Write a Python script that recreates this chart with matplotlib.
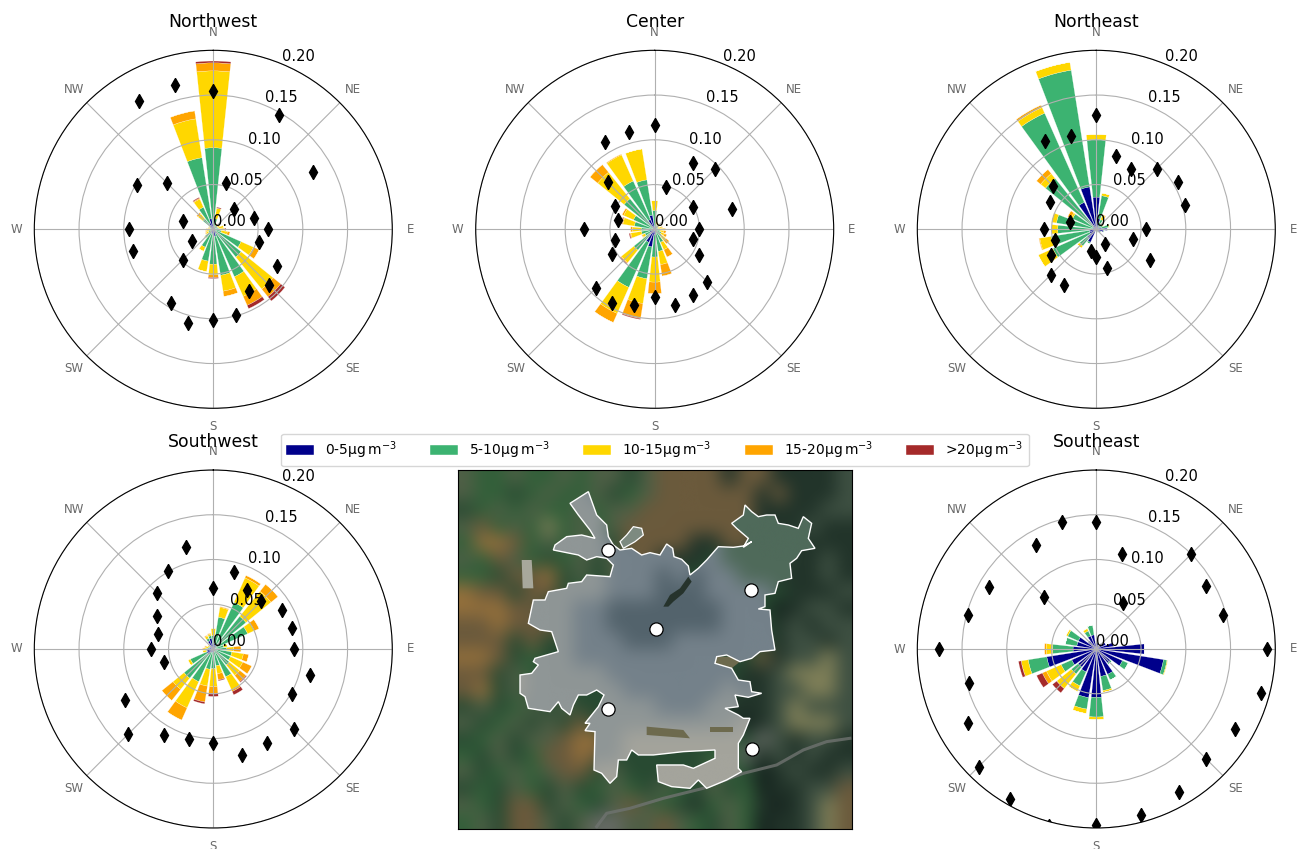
import numpy as np
import matplotlib
matplotlib.use("Agg")
import matplotlib.pyplot as plt
from matplotlib.colors import to_rgb
from matplotlib.patches import Polygon, Patch

W, H = 1298, 849

# wind direction bins, clockwise from north
directions = np.arange(0, 360, 15)
dir_labels = ["N", "NE", "E", "SE", "S", "SW", "W", "NW"]
class_labels = [r"0-5$\mathrm{\mu g\,m^{-3}}$", r"5-10$\mathrm{\mu g\,m^{-3}}$",
                r"10-15$\mathrm{\mu g\,m^{-3}}$", r"15-20$\mathrm{\mu g\,m^{-3}}$",
                r">20$\mathrm{\mu g\,m^{-3}}$"]
class_colors = ["darkblue", "mediumseagreen", "gold", "orange", "brown"]

# upper edge of each class per direction
nw_tops = [[.006, .091, .177, .186, .188], [.003, .012, .024, .024, .025], [.002, .005, .007, .007, .007],
           [.002, .004, .005, .005, .005], [.002, .005, .008, .008, .008], [.002, .006, .012, .012, .012],
           [.002, .007, .012, .013, .014], [.002, .009, .016, .019, .019], [.003, .034, .049, .056, .056],
           [.003, .040, .086, .097, .103], [.005, .058, .082, .093, .097], [.008, .052, .070, .076, .076],
           [.006, .039, .051, .054, .055], [.005, .036, .048, .048, .048], [.004, .022, .027, .027, .027],
           [.003, .012, .013, .013, .013], [.002, .006, .009, .010, .010], [.002, .005, .008, .009, .009],
           [.002, .004, .007, .008, .008], [.002, .004, .005, .006, .006], [.003, .005, .006, .006, .006],
           [.004, .015, .022, .024, .024], [.008, .027, .037, .038, .039], [.012, .081, .125, .134, .134]]
nw_marks = [.154, .054, .147, .032, .129, .047, .061, .053, .082, .088, .080, .099,
            .101, .108, .095, .048, .027, .093, .094, .035, .099, .073, .166, .167]

ce_tops = [[.003, .021, .032, .032, .032], [.003, .006, .009, .009, .009], [.002, .005, .008, .008, .008],
           [.002, .004, .006, .006, .006], [.002, .004, .006, .006, .006], [.002, .004, .008, .009, .009],
           [.002, .006, .011, .012, .012], [.002, .006, .010, .013, .013], [.002, .008, .012, .015, .015],
           [.002, .010, .016, .021, .021], [.003, .016, .025, .034, .034], [.004, .025, .040, .053, .053],
           [.006, .031, .059, .072, .072], [.020, .056, .084, .101, .102], [.016, .071, .103, .114, .114],
           [.006, .030, .048, .049, .050], [.006, .012, .015, .016, .016], [.004, .015, .027, .028, .029],
           [.002, .015, .025, .027, .027], [.002, .023, .036, .037, .038], [.003, .026, .038, .040, .040],
           [.003, .044, .082, .093, .093], [.012, .059, .091, .092, .092], [.016, .056, .091, .091, .091]]
ce_marks = [.116, .049, .086, .095, .050, .089, .049, .044, .057, .083, .085, .088,
            .076, .088, .095, .093, .055, .046, .079, .042, .051, .074, .112, .112]

ne_tops = [[.036, .100, .106, .106, .106], [.012, .038, .041, .041, .041], [.004, .012, .017, .018, .018],
           [.003, .008, .009, .009, .009], [.003, .008, .009, .009, .009], [.006, .014, .015, .015, .015],
           [.012, .013, .013, .013, .013], [.008, .009, .009, .009, .009], [.005, .006, .006, .006, .006],
           [.002, .002, .002, .002, .002], [.003, .004, .004, .004, .004], [.002, .002, .002, .002, .002],
           [.002, .002, .002, .002, .002], [.003, .003, .003, .003, .003], [.016, .018, .018, .018, .018],
           [.013, .024, .027, .027, .027], [.008, .053, .071, .071, .071], [.008, .051, .064, .065, .065],
           [.005, .043, .050, .050, .050], [.004, .045, .051, .051, .051], [.004, .029, .031, .035, .035],
           [.005, .073, .080, .086, .086], [.033, .142, .149, .152, .152], [.048, .180, .189, .189, .189]]
ne_marks = [.128, .085, .078, .096, .105, .103, .055, .043, .069, np.nan, .019, .045,
            .031, .025, .072, .072, .058, .048, .058, .030, .060, .069, .114, .108]

sw_tops = [[.004, .015, .023, .023, .023], [.006, .036, .047, .048, .048], [.004, .057, .087, .090, .090],
           [.004, .047, .083, .093, .093], [.003, .042, .050, .056, .056], [.002, .012, .016, .016, .016],
           [.003, .015, .023, .031, .031], [.003, .021, .034, .040, .040], [.003, .021, .036, .047, .047],
           [.003, .023, .038, .047, .048], [.002, .034, .050, .052, .056], [.002, .019, .028, .035, .036],
           [.003, .022, .042, .050, .053], [.004, .023, .042, .060, .062], [.004, .040, .072, .087, .087],
           [.008, .042, .058, .074, .074], [.008, .028, .031, .031, .031], [.007, .008, .012, .012, .012],
           [.006, .008, .011, .012, .012], [.004, .006, .009, .010, .010], [.004, .005, .007, .007, .007],
           [.003, .005, .006, .006, .006], [.010, .013, .016, .017, .017], [.012, .015, .017, .018, .018]]
sw_marks = [.068, .089, .076, .076, .088, .091, .090, .112, .101, .127, .121, .123,
            .105, .104, .111, .135, .114, .057, .070, .064, .073, .089, .101, .118]

se_tops = [[.006, .007, .007, .007, .007], [.007, .008, .008, .008, .008], [.005, .005, .005, .005, .005],
           [.008, .008, .008, .008, .008], [.012, .012, .012, .012, .012], [.020, .020, .020, .020, .020],
           [.054, .054, .054, .054, .054], [.076, .080, .081, .081, .081], [.032, .039, .039, .039, .039],
           [.020, .022, .022, .022, .022], [.031, .038, .038, .038, .038], [.031, .047, .049, .049, .049],
           [.054, .076, .079, .079, .079], [.055, .068, .073, .073, .073], [.028, .045, .052, .052, .052],
           [.026, .036, .057, .057, .063], [.030, .043, .061, .066, .073], [.056, .077, .085, .085, .088],
           [.026, .049, .056, .058, .058], [.022, .035, .035, .035, .035], [.022, .035, .037, .037, .037],
           [.012, .012, .012, .012, .012], [.016, .022, .025, .025, .025], [.016, .027, .027, .027, .027]]
se_marks = [.142, .110, .059, .150, .141, .146, .191, .190, .179, .174, .185, .192,
            .197, .205, .193, .186, .166, .147, .176, .148, .139, .082, .134, .147]

# map: coarse colours, one letter per cell
map_palette = {"G": "#33603a", "g": "#284a32", "c": "#4f5f46", "b": "#6b5a3c", "B": "#94703c",
               "d": "#22342a", "k": "#16241f", "m": "#3e5042", "t": "#7f7f58", "r": "#666a65"}
map_rows = ["cGGcGGcGccgcbbbbdbbddddm",
            "cGGgGcGGcgGcbbbbbbdbdddm",
            "gGcGcGGcGccbbbbbbbddddmm",
            "cbGcGtGcGcbbbbbbbbdddmdd",
            "GBBbGcGccgbbbbddbbdmdddd",
            "cGbcGgGcgcbbdddgddgmddmd",
            "GGgbbBgcgcbbbgggggmdddmd",
            "BbbgbbgGggbgggggggggdddm",
            "BBBbbgbbgggggggggggkdmmd",
            "bbBbbbbggggggggggggdmdmm",
            "bbbgbggggggggggggggdmmdm",
            "BBbgGgggggggggggggbdmmtm",
            "bbgcGggggggggggggddmtttm",
            "bBgcgcgggggggggggddmmttm",
            "gcgGcgcgggggggggdddmtmmm",
            "cgGcgcgbggggggggdkdmtttm",
            "gGcgccbBBgggggggGgrmdmmd",
            "GgcgGbbBbggggggGGrdmdmdd",
            "cgGcGcbbgcgggggcGgkdmddm",
            "gGgcGgcgGcGgcGgcgGkddmmb",
            "cGgbbgcGgcbcGgdGcGdkdmtb",
            "GcgbbcgcrrccbcGgcGkddmtb"]

city_palette = {"e": "#4f6a5a", "a": "#53636c", "s": "#74818a", "l": "#8f9696", "w": "#a4a49c"}
city_rows = ["llllllllssssssssseeeeeee",
             "llllllllssssssssseeeeeee",
             "llllllllllsssssseeeeeeee",
             "lllllllllesssssseeeeeeee",
             "lllllllllssssssseeeeeeee",
             "lllllllllssssssseeeeeeee",
             "lllllllllsssasasseeeeeee",
             "lllllllllsssaaasssseeeee",
             "lllllllssaaaaaaasssseeee",
             "lllllllssaaaaaaassssseee",
             "lllllllsssaaasssssssseee",
             "lllllllssssssssssssssees",
             "lllwlllllsssssssssssssss",
             "llwwllllllsssssslsllllll",
             "llllllllllllssslllllllll",
             "lllllllllllllllllwwlllll",
             "llllllllllwwwwwwwwwlllll",
             "llllllllllwwwwwwwwwlllll",
             "llllllllwwwwwwwwwwwwllll",
             "llllllllwwwwwwwwwwwwllll",
             "llllllllwwwwwwwwwwwwllll",
             "llllllllwwwwwwwwwwwwllll"]

# outlines and station sites in map coordinates
city_outline = [(490, 255), (510, 270), (545, 265), (575, 285), (600, 278), (630, 285), (650, 252), (668, 265),
                (672, 290), (695, 298), (715, 318), (720, 345), (745, 325), (770, 300), (805, 260), (850, 262),
                (880, 258), (905, 245), (880, 262), (895, 235), (860, 205), (845, 190), (880, 165), (885, 135),
                (905, 155), (925, 170), (950, 165), (975, 165), (985, 190), (1015, 195), (1045, 205), (1060, 170),
                (1085, 190), (1075, 235), (1095, 265), (1055, 272), (1040, 295), (1020, 310), (1025, 355),
                (985, 365), (975, 400), (945, 405), (945, 440), (925, 447), (960, 450), (965, 510), (975, 570),
                (930, 575), (905, 595), (870, 605), (830, 585), (800, 590), (795, 610), (845, 625), (865, 660),
                (900, 665), (905, 695), (935, 700), (895, 712), (855, 705), (865, 740), (825, 745), (865, 765),
                (880, 775), (900, 775), (880, 825), (865, 850), (865, 925), (875, 935), (830, 960), (770, 985),
                (745, 960), (720, 985), (665, 980), (625, 965), (620, 915), (660, 915), (700, 915), (730, 925),
                (795, 895), (795, 870), (700, 875), (610, 885), (565, 885), (545, 870), (530, 900), (505, 900),
                (500, 950), (480, 970), (455, 940), (432, 930), (435, 815), (405, 812), (420, 790), (405, 790),
                (445, 740), (462, 705), (440, 690), (410, 705), (385, 705), (370, 735), (360, 765), (335, 745),
                (325, 725), (300, 755), (235, 745), (225, 710), (210, 700), (210, 645), (245, 640), (265, 615),
                (250, 605), (255, 595), (325, 575), (305, 515), (270, 510), (235, 490), (250, 420), (285, 420),
                (295, 395), (350, 385), (355, 370), (395, 365), (410, 345), (480, 350), (490, 315), (470, 295),
                (440, 290), (410, 300), (385, 285), (310, 270), (315, 255), (350, 230), (395, 225), (435, 235),
                (420, 210), (385, 165), (360, 130), (415, 95), (440, 165), (470, 195), (475, 230)]
north_lobe = [(510, 245), (530, 225), (550, 200), (575, 205), (580, 225), (555, 245), (520, 265)]
site_x = [475, 904, 617, 475, 906]
site_y = [270, 390, 508, 747, 868]

# things that stand out on the photo: hills, river, fields
dark_hill = [(640, 440), (660, 405), (690, 385), (715, 350), (725, 365), (700, 400), (670, 425), (655, 440)]
river_x = [440, 470, 540, 640, 760, 880, 980, 1060, 1130, 1200]
river_y = [1100, 1060, 1045, 1015, 985, 940, 915, 870, 845, 835]
field_strips = [[(590, 800), (700, 810), (720, 835), (590, 825)], [(780, 800), (850, 800), (850, 815), (780, 815)],
                [(800, 590), (845, 590), (870, 605), (845, 625), (795, 610)]]
airport = [(215, 300), (245, 300), (250, 385), (218, 385)]


def px_axes(x0, y0, x1, y1, **kw):
    # axes from picture pixels, y counted from the top
    return fig.add_axes([x0 / W, 1 - y1 / H, (x1 - x0) / W, (y1 - y0) / H], **kw)


def rose(cx, cy, title, tops, marks):
    ax = px_axes(cx - 179, cy - 179, cx + 179, cy + 179, projection="polar")
    ax.set_theta_zero_location("N")
    ax.set_theta_direction(-1)
    theta = np.deg2rad(directions)
    tops = np.array(tops)
    bottom = np.zeros(len(theta))
    for i, color in enumerate(class_colors):
        ax.bar(theta, tops[:, i] - bottom, width=0.21, bottom=bottom, color=color,
               edgecolor="white", linewidth=0.15)
        bottom = tops[:, i]
    ax.plot(theta, marks, linestyle="none", marker="d", color="black", markersize=7.5)
    ax.set_rlim(0, 0.2)
    ax.set_rticks([0, 0.05, 0.1, 0.15, 0.2])
    ax.set_yticklabels(["0.00", "0.05", "0.10", "0.15", "0.20"], fontsize=10.5)
    ax.set_xticks(np.deg2rad(np.arange(0, 360, 45)))
    ax.set_xticklabels(dir_labels, fontsize=8.5, color="dimgray")
    ax.tick_params(axis="x", pad=2.5)
    ax.set_title(title, fontsize=12.4, y=1.064, pad=0)
    return ax


def color_grid(rows, palette):
    return np.array([[to_rgb(palette[c]) for c in row] for row in rows])


fig = plt.figure(figsize=(W / 100, H / 100), dpi=100)

rose(213.3, 229.3, "Northwest", nw_tops, nw_marks)
rose(654.7, 229.3, "Center", ce_tops, ce_marks)
rose(1096.3, 229.3, "Northeast", ne_tops, ne_marks)
rose(213.3, 649, "Southwest", sw_tops, sw_marks)
rose(1096.3, 649, "Southeast", se_tops, se_marks)

# map panel
ax_map = px_axes(457.7, 470, 852.3, 829.3)
extent = (23, 1207, 1108, 30)
ax_map.imshow(color_grid(map_rows, map_palette), extent=extent, interpolation="bicubic", aspect="auto")
ax_map.plot(river_x, river_y, color="#6f7370", linewidth=2.2, alpha=0.8, zorder=2)
city = ax_map.imshow(color_grid(city_rows, city_palette), extent=extent, interpolation="bicubic", aspect="auto",
                     zorder=2.2)
outline = Polygon(city_outline, closed=True, facecolor="none", edgecolor="white", linewidth=1.0, zorder=3)
ax_map.add_patch(outline)
city.set_clip_path(outline)
ax_map.add_patch(Polygon(north_lobe, closed=True, facecolor="#7d8a80", edgecolor="white", linewidth=0.9, zorder=3))
ax_map.add_patch(Polygon(airport, closed=True, facecolor="#a8a89c", edgecolor="none", zorder=2))
ax_map.add_patch(Polygon(dark_hill, closed=True, facecolor="#26332c", edgecolor="none", zorder=3))
for strip in field_strips:
    ax_map.add_patch(Polygon(strip, closed=True, facecolor="#6d6a4e", edgecolor="none", zorder=2.5))
ax_map.plot(site_x, site_y, linestyle="none", marker="o", markersize=9.5, markerfacecolor="white",
            markeredgecolor="black", markeredgewidth=0.9, zorder=4)
ax_map.set_xlim(23, 1207)
ax_map.set_ylim(1108, 30)
ax_map.set_xticks([])
ax_map.set_yticks([])

handles = [Patch(facecolor=c, edgecolor="white", linewidth=0.3) for c in class_colors]
fig.legend(handles, class_labels, ncol=5, loc="center", bbox_to_anchor=(655 / W, 1 - 450 / H), fontsize=10,
           columnspacing=2.4)

fig.savefig("out.png", dpi=100)
